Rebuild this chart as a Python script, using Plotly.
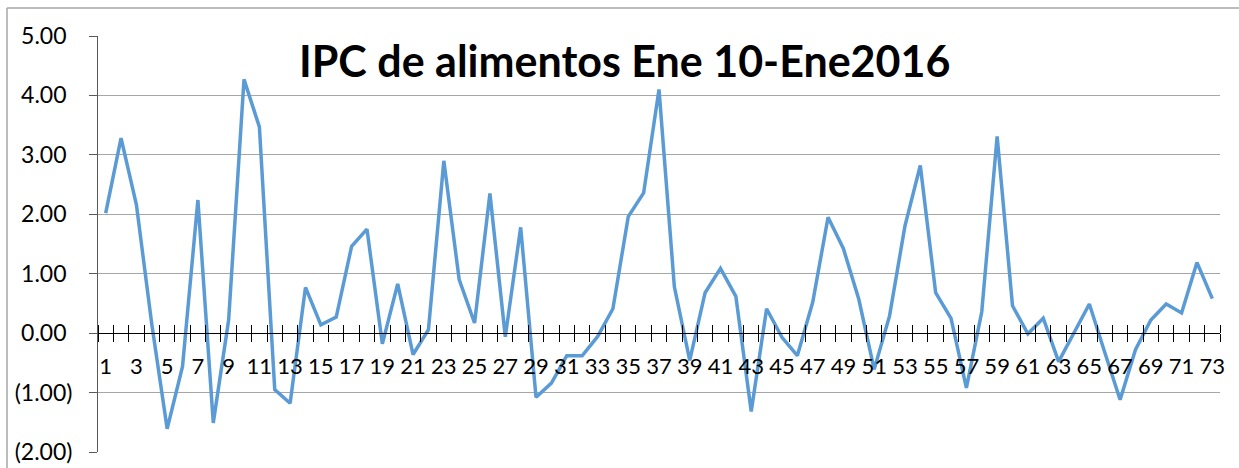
import plotly.graph_objects as go

periods = list(range(1, 74))
ipc_values = [
    2.02, 3.28, 2.16, 0.15, -1.61, -0.56, 2.24, -1.51, 0.22, 4.27,
    3.47, -0.95, -1.18, 0.77, 0.14, 0.27, 1.46, 1.75, -0.18, 0.83,
    -0.36, 0.06, 2.90, 0.90, 0.17, 2.35, -0.06, 1.78, -1.08, -0.84,
    -0.38, -0.38, -0.06, 0.41, 1.96, 2.36, 4.10, 0.78, -0.46, 0.68,
    1.09, 0.62, -1.32, 0.41, -0.07, -0.38, 0.52, 1.95, 1.42, 0.57,
    -0.61, 0.29, 1.80, 2.82, 0.68, 0.25, -0.92, 0.36, 3.31, 0.46,
    -0.01, 0.25, -0.48, 0.00, 0.49, -0.32, -1.12, -0.28, 0.22, 0.49,
    0.34, 1.19, 0.58,
]
x_label_vals = list(range(1, 74, 2))
x_label_text = [str(v) for v in x_label_vals]
y_tick_vals = [5, 4, 3, 2, 1, 0, -1, -2]
y_tick_text = ["5.00\u00a0", "4.00\u00a0", "3.00\u00a0", "2.00\u00a0",
               "1.00\u00a0", "0.00\u00a0", "(1.00)", "(2.00)"]
title_text = "IPC de alimentos Ene 10-Ene2016"

FONT = "Lato"
W, H = 1239, 468
ML, MR, MT, MB = 98, 19, 36, 16
PW, PH = W - ML - MR, H - MT - MB
y_min, y_max = -2, 5
zero_pos = (0 - y_min) / (y_max - y_min)


def px_x(p):
    return (p - ML) / PW


def px_y(p):
    return (H - MB - p) / PH


fig = go.Figure()
fig.add_trace(go.Scatter(
    x=periods, y=ipc_values, mode="lines",
    line=dict(color="#5B9BD5", width=3.5),
    showlegend=False, hoverinfo="skip",
))
fig.add_trace(go.Scatter(x=[periods[0]], y=[0], xaxis="x2", mode="markers",
                         marker=dict(opacity=0), showlegend=False, hoverinfo="skip"))

fig.update_layout(
    width=W, height=H,
    margin=dict(l=ML, r=MR, t=MT, b=MB, autoexpand=False),
    paper_bgcolor="white", plot_bgcolor="white",
    font=dict(family=FONT, size=22, color="black"),
    xaxis=dict(
        range=[0.5, 73.5], anchor="free", position=zero_pos, automargin=False,
        showgrid=False, zeroline=False,
        showline=True, linecolor="black", linewidth=1,
        tickmode="array", tickvals=x_label_vals, ticktext=x_label_text,
        ticks="", ticklabelstandoff=13,
        tickfont=dict(family=FONT, size=22, color="black"),
        minor=dict(tick0=0.5, dtick=1, ticks="outside", ticklen=8,
                   tickcolor="black", tickwidth=1, showgrid=False),
    ),
    xaxis2=dict(
        range=[0.5, 73.5], overlaying="x", anchor="free", position=zero_pos,
        side="top", showgrid=False, zeroline=False, showline=False, automargin=False,
        tickmode="linear", tick0=0.5, dtick=1, ticks="outside", ticklen=8,
        tickcolor="black", tickwidth=1, showticklabels=False,
    ),
    yaxis=dict(
        range=[y_min, y_max], showgrid=True, gridcolor="#A6A6A6", gridwidth=1,
        zeroline=False, showline=True, linecolor="#595959", linewidth=1,
        automargin=False,
        tickmode="array", tickvals=y_tick_vals, ticktext=y_tick_text,
        ticks="outside", ticklen=8, tickcolor="#595959", ticklabelstandoff=12,
        tickfont=dict(family=FONT, size=23, color="black"),
    ),
    annotations=[dict(
        text="<b>" + title_text + "</b>", xref="paper", yref="paper",
        x=px_x(624), y=px_y(60), xanchor="center", yanchor="middle",
        showarrow=False, font=dict(family=FONT, size=43, color="black"),
    )],
    shapes=[
        dict(type="line", xref="paper", yref="paper", x0=px_x(7), x1=px_x(W + 2),
             y0=px_y(8), y1=px_y(8), line=dict(color="#A6A6A6", width=1.5)),
        dict(type="line", xref="paper", yref="paper", x0=px_x(7), x1=px_x(7),
             y0=px_y(8), y1=px_y(H + 2), line=dict(color="#A6A6A6", width=1.5)),
    ],
)

fig.write_html(
    "out.html",
    config={"displayModeBar": False},
    post_script="document.body.style.margin='0';document.body.style.overflow='hidden';",
)
